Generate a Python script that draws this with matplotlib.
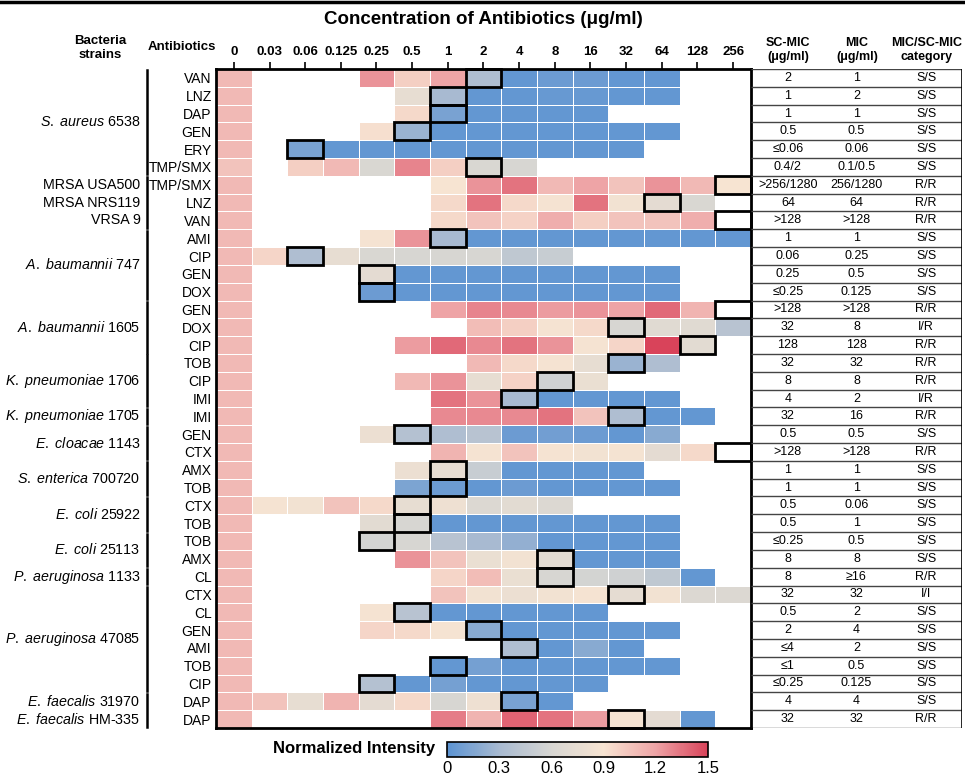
import numpy as np
import matplotlib
matplotlib.use("Agg")
import matplotlib.pyplot as plt
from matplotlib import font_manager
from matplotlib.colors import LinearSegmentedColormap, Normalize
from matplotlib.cm import ScalarMappable
from matplotlib.patches import Rectangle
from matplotlib.lines import Line2D

names = {f.name for f in font_manager.fontManager.ttflist}
narrow = "Liberation Sans Narrow" if "Liberation Sans Narrow" in names else "Liberation Sans"
hsize = 11 if narrow != "Liberation Sans" else 9.5

plt.rcParams["font.family"] = ["Liberation Sans", "DejaVu Sans"]
plt.rcParams["mathtext.fontset"] = "custom"
plt.rcParams["mathtext.rm"] = "Liberation Sans"
plt.rcParams["mathtext.it"] = "Liberation Sans:italic"

n = np.nan
conc = ["0", "0.03", "0.06", "0.125", "0.25", "0.5", "1", "2", "4", "8", "16", "32", "64", "128", "256"]
antibiotics = ["VAN", "LNZ", "DAP", "GEN", "ERY", "TMP/SMX", "TMP/SMX", "LNZ", "VAN",
               "AMI", "CIP", "GEN", "DOX", "GEN", "DOX", "CIP", "TOB", "CIP", "IMI", "IMI",
               "GEN", "CTX", "AMX", "TOB", "CTX", "TOB", "TOB", "AMX", "CL", "CTX", "CL",
               "GEN", "AMI", "TOB", "CIP", "DAP", "DAP"]

intensity = [
    [1.1, n, n, n, 1.25, 1.0, 1.2, 0.35, 0.03, 0.07, 0.07, 0.03, 0.03, n, n],
    [1.1, n, n, n, n, 0.75, 0.3, 0.03, 0.03, 0.05, 0.05, 0.03, 0.03, n, n],
    [1.1, n, n, n, n, 0.95, 0.12, 0.03, 0.03, 0.03, 0.03, n, n, n, n],
    [1.1, n, n, n, 0.92, 0.25, 0.03, 0.03, 0.03, 0.03, 0.03, 0.03, 0.03, n, n],
    [1.1, n, 0.12, 0.03, 0.03, 0.03, 0.03, 0.03, 0.03, 0.03, 0.03, 0.03, n, n, n],
    [1.05, n, 1.0, 1.1, 0.62, 1.3, 1.0, 0.62, 0.6, n, n, n, n, n, n],
    [1.1, n, n, n, n, n, 0.9, 1.25, 1.35, 1.1, 1.2, 1.05, 1.25, 1.1, 0.9],
    [1.1, n, n, n, n, n, 0.95, 1.35, 0.95, 0.88, 1.35, 0.85, 0.72, 0.62, n],
    [1.1, n, n, n, n, n, 0.95, 1.05, 0.98, 1.15, 1.0, 1.05, 1.05, 1.15, n],
    [1.1, n, n, n, 0.88, 1.25, 0.3, 0.03, 0.03, 0.03, 0.03, 0.03, 0.03, 0.03, 0.03],
    [1.1, 0.97, 0.35, 0.75, 0.62, 0.6, 0.6, 0.6, 0.45, 0.5, n, n, n, n, n],
    [1.1, n, n, n, 0.72, 0.03, 0.03, 0.03, 0.03, 0.03, 0.03, 0.03, 0.03, n, n],
    [1.1, n, n, n, 0.07, 0.03, 0.03, 0.03, 0.03, 0.03, 0.03, 0.03, 0.03, n, n],
    [1.1, n, n, n, n, n, 1.2, 1.3, 1.28, 1.22, 1.25, 1.2, 1.38, 1.12, n],
    [1.1, n, n, n, n, n, n, 1.08, 1.0, 0.88, 0.95, 0.6, 0.68, 0.68, 0.4],
    [1.1, n, n, n, n, 1.22, 1.38, 1.28, 1.35, 1.25, 0.88, 0.97, 1.5, 0.7, n],
    [1.1, n, n, n, n, n, n, 1.1, 0.95, 0.88, 0.75, 0.25, 0.35, n, n],
    [1.1, n, n, n, n, 1.1, 1.25, 0.75, 0.98, 0.55, 0.78, n, n, n, n],
    [1.1, n, n, n, n, n, 1.35, 1.25, 0.3, 0.03, 0.03, 0.03, 0.03, n, n],
    [1.1, n, n, n, n, n, 1.28, 1.28, 1.28, 1.35, 1.05, 0.35, 0.03, 0.03, n],
    [1.1, n, n, n, 0.8, 0.38, 0.35, 0.4, 0.07, 0.09, 0.07, 0.03, 0.18, n, n],
    [1.1, n, n, n, n, n, 1.12, 0.88, 1.05, 0.88, 0.85, 0.87, 0.72, 0.95, n],
    [1.1, n, n, n, n, 0.8, 0.75, 0.5, 0.03, 0.03, 0.03, 0.03, n, n, n],
    [1.1, n, n, n, n, 0.13, 0.07, 0.03, 0.07, 0.03, 0.03, 0.03, 0.03, n, n],
    [1.1, 0.88, 0.85, 1.05, 0.95, 0.75, 0.82, 0.65, 0.7, 0.65, n, n, n, n, n],
    [1.1, n, n, n, 0.7, 0.6, 0.03, 0.03, 0.03, 0.03, 0.03, 0.03, 0.03, n, n],
    [1.1, n, n, n, 0.58, 0.6, 0.4, 0.3, 0.22, 0.03, 0.03, 0.03, 0.03, n, n],
    [1.1, n, n, n, n, 1.25, 1.05, 0.78, 0.85, 0.7, 0.03, 0.03, 0.03, n, n],
    [1.1, n, n, n, n, n, 0.97, 1.08, 0.78, 0.6, 0.58, 0.55, 0.45, 0.03, n],
    [1.1, n, n, n, n, n, 1.05, 0.85, 0.8, 0.85, 0.88, 0.73, 0.85, 0.65, 0.65],
    [1.1, n, n, n, 0.88, 0.4, 0.03, 0.03, 0.03, 0.03, 0.03, n, n, n, n],
    [1.1, n, n, n, 0.97, 0.95, 0.88, 0.18, 0.03, 0.03, 0.03, 0.03, 0.03, n, n],
    [1.1, n, n, n, n, n, n, n, 0.35, 0.03, 0.18, 0.03, n, n, n],
    [1.1, n, n, n, n, n, 0.03, 0.1, 0.03, 0.03, 0.03, 0.03, 0.03, n, n],
    [1.1, n, n, n, 0.38, 0.03, 0.1, 0.03, 0.03, 0.03, 0.03, n, n, n, n],
    [1.1, 1.05, 0.75, 1.12, 0.72, 0.95, 0.6, 0.82, 0.12, 0.03, n, n, n, n, n],
    [1.1, n, n, n, n, n, 1.32, 1.12, 1.4, 1.35, 1.22, 0.88, 0.72, 0.03, n],
]

# concentration that gets the black outline in each row
box_conc = ["2", "1", "1", "0.5", "0.06", "2", "256", "64", "256", "1", "0.06", "0.25", "0.25",
            "256", "32", "128", "32", "8", "4", "32", "0.5", "256", "1", "1", "0.5", "0.5",
            "0.25", "8", "8", "32", "0.5", "2", "4", "1", "0.25", "4", "32"]

sc_mic = ["2", "1", "1", "0.5", "≤0.06", "0.4/2", ">256/1280", "64", ">128", "1", "0.06", "0.25",
          "≤0.25", ">128", "32", "128", "32", "8", "4", "32", "0.5", ">128", "1", "1", "0.5", "0.5",
          "≤0.25", "8", "8", "32", "0.5", "2", "≤4", "≤1", "≤0.25", "4", "32"]
mic = ["1", "2", "1", "0.5", "0.06", "0.1/0.5", "256/1280", "64", ">128", "1", "0.25", "0.5",
       "0.125", ">128", "8", "128", "32", "8", "2", "16", "0.5", ">128", "1", "1", "0.06", "1",
       "0.5", "8", "≥16", "32", "2", "4", "2", "0.5", "0.125", "4", "32"]
category = ["S/S"] * 6 + ["R/R"] * 3 + ["S/S"] * 4 + [
    "R/R", "I/R", "R/R", "R/R", "R/R", "I/R", "R/R", "S/S", "R/R", "S/S", "S/S", "S/S",
    "S/S", "S/S", "S/S", "R/R", "I/I", "S/S", "S/S", "S/S", "S/S", "S/S", "S/S", "R/R"]

strain_labels = [r"$\it{S.\ aureus}$ 6538", "MRSA USA500", "MRSA NRS119", "VRSA 9",
                 r"$\it{A.\ baumannii}$ 747", r"$\it{A.\ baumannii}$ 1605",
                 r"$\it{K.\ pneumoniae}$ 1706", r"$\it{K.\ pneumoniae}$ 1705",
                 r"$\it{E.\ cloacae}$ 1143", r"$\it{S.\ enterica}$ 700720",
                 r"$\it{E.\ coli}$ 25922", r"$\it{E.\ coli}$ 25113",
                 r"$\it{P.\ aeruginosa}$ 1133", r"$\it{P.\ aeruginosa}$ 47085",
                 r"$\it{E.\ faecalis}$ 31970", r"$\it{E.\ faecalis}$ HM-335"]
strain_first = [0, 6, 7, 8, 9, 13, 16, 19, 20, 22, 24, 26, 28, 29, 35, 36]
strain_last = [5, 6, 7, 8, 12, 15, 18, 19, 21, 23, 25, 27, 28, 34, 35, 36]
bracket_first = [0, 6, 9, 13, 16, 19, 20, 22, 24, 26, 28, 29, 35]
bracket_last = [5, 8, 12, 15, 18, 19, 21, 23, 25, 27, 28, 34, 36]

cbar_ticks = [0, 0.3, 0.6, 0.9, 1.2, 1.5]

cmap = LinearSegmentedColormap.from_list(
    "ni", [(0.0, "#5b93d2"), (0.2, "#a8bad1"), (0.4, "#d7d6d2"), (0.6, "#f7e4d2"),
           (0.8, "#eea4a6"), (1.0, "#d9435a")])
norm = Normalize(0, 1.5)

W, H = 965, 778
fig = plt.figure(figsize=(W / 100, H / 100), dpi=100)
L, R, T, B = 216, 751, 69, 728
ax = fig.add_axes([L / W, 1 - B / H, (R - L) / W, (B - T) / H])

data = np.ma.masked_invalid(np.array(intensity))
ax.pcolormesh(np.arange(len(conc) + 1) - 0.5, np.arange(len(antibiotics) + 1) - 0.5, data,
              cmap=cmap, norm=norm, edgecolors="white", linewidth=0.5)
ax.set_xlim(-0.5, len(conc) - 0.5)
ax.set_ylim(len(antibiotics) - 0.5, -0.5)

for i, c in enumerate(box_conc):
    j = conc.index(c)
    ax.add_patch(Rectangle((j - 0.5, i - 0.5), 1, 1, fill=False, ec="black", lw=2,
                           zorder=4, clip_on=False))

ax.xaxis.tick_top()
ax.set_xticks(range(len(conc)))
ax.set_xticklabels(conc, fontweight="bold", fontsize=hsize, family=narrow)
ax.tick_params(axis="x", direction="out", length=5, width=1.2, pad=3)
ax.set_yticks(range(len(antibiotics)))
ax.set_yticklabels(antibiotics, fontsize=10)
ax.tick_params(axis="y", length=0, pad=3)
for s in ax.spines.values():
    s.set_linewidth(2)

ytr = ax.get_yaxis_transform()
for lab, a, b in zip(strain_labels, strain_first, strain_last):
    ax.text(-0.141, (a + b) / 2, lab, transform=ytr, ha="right", va="center", fontsize=10.3)
for a, b in zip(bracket_first, bracket_last):
    ax.add_line(Line2D([-0.129, -0.129], [a - 0.42, b + 0.42], transform=ytr, color="black",
                       lw=1.8, clip_on=False))

# table on the right
tax = fig.add_axes([R / W, 1 - B / H, (962 - R) / W, (B - T) / H])
tax.set_xlim(0, 1)
tax.set_ylim(len(antibiotics) - 0.5, -0.5)
tax.axis("off")
tax.hlines(np.arange(len(antibiotics) + 1) - 0.5, 0, 1, color="#444444", lw=1)
tax.vlines(1, -0.5, len(antibiotics) - 0.5, color="black", lw=1.2)
for i in range(len(antibiotics)):
    tax.text(0.175, i, sc_mic[i], ha="center", va="center", fontsize=9)
    tax.text(0.5, i, mic[i], ha="center", va="center", fontsize=9)
    tax.text(0.83, i, category[i], ha="center", va="center", fontsize=9)

# headers
fig.text((L + R) / 2 / W, 1 - 20 / H, "Concentration of Antibiotics (μg/ml)", ha="center",
         va="center", fontweight="bold", fontsize=hsize + 4, family=narrow)
fig.text(100 / W, 1 - 48 / H, "Bacteria\nstrains", ha="center", va="center",
         fontweight="bold", fontsize=hsize, family=narrow, linespacing=1.25)
fig.text(182 / W, 1 - 47 / H, "Antibiotics", ha="center", va="center",
         fontweight="bold", fontsize=hsize, family=narrow)
for x, t in [(788, "SC-MIC\n(μg/ml)"), (857, "MIC\n(μg/ml)"), (927, "MIC/SC-MIC\ncategory")]:
    fig.text(x / W, 1 - 50 / H, t, ha="center", va="center", fontweight="bold",
             fontsize=hsize - 0.5, family=narrow, linespacing=1.25)

fig.add_artist(Line2D([0, 1], [1 - 2 / H, 1 - 2 / H], color="black", lw=2.5))

# colorbar
cax = fig.add_axes([447 / W, 1 - 757 / H, 261 / W, 15 / H])
cb = fig.colorbar(ScalarMappable(norm=norm, cmap=cmap), cax=cax, orientation="horizontal",
                  ticks=cbar_ticks)
cb.set_ticklabels(["0", "0.3", "0.6", "0.9", "1.2", "1.5"])
cax.tick_params(length=0, pad=3, labelsize=12)
cb.outline.set_linewidth(1.2)
fig.text(435 / W, 1 - 748 / H, "Normalized Intensity", ha="right", va="center",
         fontweight="bold", fontsize=12)

fig.savefig("out.png", dpi=100)
